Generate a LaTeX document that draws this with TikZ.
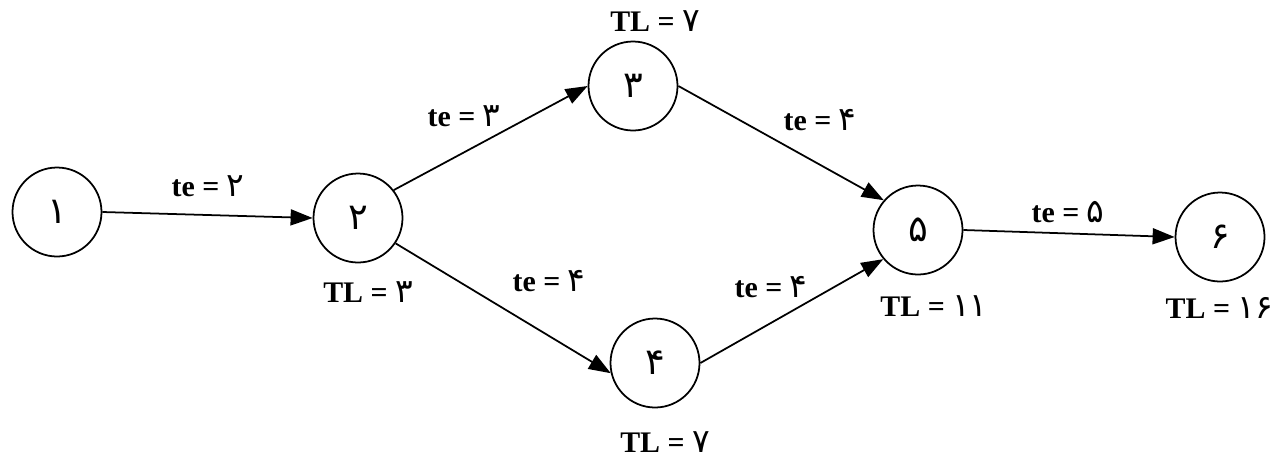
\documentclass[tikz,border=0pt]{standalone}
\usepackage{fontspec}
\setmainfont{Liberation Serif}
\newfontfamily\fadigits[Script=Arabic,Scale=1.1]{DejaVu Sans}
\usetikzlibrary{arrows.meta}
\newcommand{\fa}[1]{{\fadigits\mdseries #1}}
\begin{document}
\begin{tikzpicture}[x=0.2mm,y=-0.2mm,
  event/.style={draw,circle,line width=1pt,minimum size=17.8mm,inner sep=0pt,font=\fontsize{19}{21}\selectfont},
  act/.style={line width=1pt,-{Triangle[length=4.4mm,width=3.2mm]}},
  lbl/.style={font=\fontsize{17}{20}\selectfont\bfseries}]
\useasboundingbox (0,0) rectangle (1281,462);

\node[event] (n1) at (57,212) {\fa{۱}};
\node[event] (n2) at (358,218) {\fa{۲}};
\node[event] (n3) at (633,86) {\fa{۳}};
\node[event] (n4) at (655,363) {\fa{۴}};
\node[event] (n5) at (918,230) {\fa{۵}};
\node[event] (n6) at (1220,237) {\fa{۶}};

\draw[act] (n1.east) -- (n2.west);
\draw[act] (n2.38) -- (n3.west);
\draw[act] (n2.-34) -- (n4.193);
\draw[act] (n3.east) -- (n5.139);
\draw[act] (n4.east) -- (n5.220);
\draw[act] (n5.east) -- (n6.west);

\node[lbl] (te12) at (208,186) {te = \fa{۲}};
\node[lbl] (te23) at (464,116) {te = \fa{۳}};
\node[lbl] (te24) at (549,281) {te = \fa{۴}};
\node[lbl] (te35) at (820,120) {te = \fa{۴}};
\node[lbl] (te45) at (771,287) {te = \fa{۴}};
\node[lbl] (te56) at (1068,212) {te = \fa{۵}};

\node[lbl] (tl2) at (368,292) {TL = \fa{۳}};
\node[lbl] (tl3) at (655,21) {TL = \fa{۷}};
\node[lbl] (tl4) at (665,442) {TL = \fa{۷}};
\node[lbl] (tl5) at (934,306) {TL = \fa{۱۱}};
\node[lbl,anchor=east] (tl6) at (1279,308) {TL = \fa{۱۶}};
\end{tikzpicture}
\end{document}
